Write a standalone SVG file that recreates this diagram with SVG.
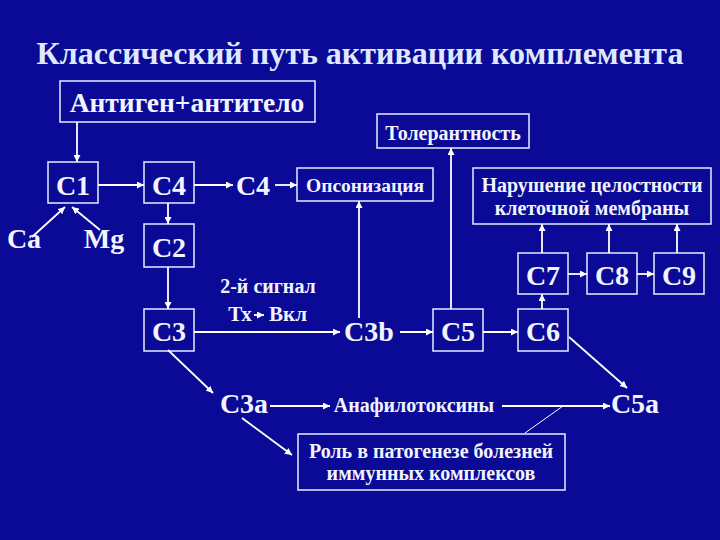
<svg xmlns="http://www.w3.org/2000/svg" width="720" height="540" viewBox="0 0 720 540">
<defs>
<marker id="ah" viewBox="0 0 10 10" refX="10" refY="5" markerWidth="7" markerHeight="7" markerUnits="userSpaceOnUse" orient="auto">
<path d="M0,0 L10,5 L0,10 z" fill="#ffffff"/>
</marker>
</defs>
<style>
.bx{fill:none;stroke:#e8ecff;stroke-width:1.5}
.t{font-family:'Liberation Serif','DejaVu Serif',serif;font-weight:bold;fill:#f2f4ff;text-anchor:middle}
.c{font-size:28px}
.m{font-size:20px}
.ln{stroke:#ffffff;stroke-width:1.8;fill:none}
.ar{stroke:#ffffff;stroke-width:1.8;fill:none;marker-end:url(#ah)}
</style>
<rect width="720" height="540" fill="#0a0a96"/>
<text class="t" x="360" y="64" style="font-size:32px;fill:#dfe8ff">Классический путь активации комплемента</text>

<g id="antigen"><rect class="bx" x="60" y="81" width="255" height="41"/><text class="t" x="187" y="112" style="font-size:27.5px">Антиген+антитело</text></g>
<g id="c1"><rect class="bx" x="48" y="162" width="50" height="41"/><text class="t c" x="73" y="195">C1</text></g>
<g id="c4box"><rect class="bx" x="144" y="162" width="50" height="41"/><text class="t c" x="169" y="195">C4</text></g>
<g id="c4"><text class="t c" x="253" y="195">C4</text></g>
<g id="opson"><rect class="bx" x="297" y="168" width="136" height="33"/><text class="t" x="365" y="192" style="font-size:19.5px">Опсонизация</text></g>
<g id="tol"><rect class="bx" x="377" y="114" width="152" height="34"/><text class="t" x="453" y="140" style="font-size:20px">Толерантность</text></g>
<g id="narush"><rect class="bx" x="473" y="168" width="238" height="56"/><text class="t m" x="592" y="192">Нарушение целостности</text><text class="t m" x="592" y="215">клеточной мембраны</text></g>
<g id="ca"><text class="t c" x="24" y="248">Ca</text></g>
<g id="mg"><text class="t c" x="104" y="248">Mg</text></g>
<g id="c2"><rect class="bx" x="144" y="224" width="50" height="43"/><text class="t c" x="169" y="257">C2</text></g>
<g id="c3"><rect class="bx" x="144" y="309" width="50" height="42"/><text class="t c" x="169" y="341">C3</text></g>
<g id="signal"><text class="t" x="268" y="293" style="font-size:20px">2-й сигнал</text><text class="t" x="240" y="321" style="font-size:21px">Тх</text><text class="t" x="288" y="321" style="font-size:21px">Вкл</text></g>
<g id="c3b"><text class="t c" x="369" y="341">C3b</text></g>
<g id="c5"><rect class="bx" x="433" y="309" width="50" height="42"/><text class="t c" x="458" y="341">C5</text></g>
<g id="c6"><rect class="bx" x="518" y="309" width="50" height="42"/><text class="t c" x="543" y="341">C6</text></g>
<g id="c7"><rect class="bx" x="518" y="253" width="50" height="41"/><text class="t c" x="543" y="285">C7</text></g>
<g id="c8"><rect class="bx" x="587" y="253" width="50" height="41"/><text class="t c" x="612" y="285">C8</text></g>
<g id="c9"><rect class="bx" x="654" y="253" width="50" height="41"/><text class="t c" x="679" y="285">C9</text></g>
<g id="c3a"><text class="t c" x="244" y="413">C3a</text></g>
<g id="anaf"><text class="t m" x="414" y="412">Анафилотоксины</text></g>
<g id="c5a"><text class="t c" x="635" y="413">C5a</text></g>
<g id="rol"><rect class="bx" x="298" y="434" width="267" height="56"/><text class="t m" x="431" y="458">Роль в патогенезе болезней</text><text class="t m" x="431" y="480">иммунных комплексов</text></g>

<g id="connectors">
<path class="ar" d="M77,122 V162"/>
<path class="ar" d="M98,185 H144"/>
<path class="ar" d="M194,185 H233"/>
<path class="ar" d="M275,185 H297"/>
<path class="ar" d="M32,237 L65,207"/>
<path class="ar" d="M100,230 L72,207"/>
<path class="ar" d="M168,203 V224"/>
<path class="ar" d="M168,267 V309"/>
<path class="ar" d="M254,315 H264"/>
<path class="ar" d="M194,332 H340"/>
<path class="ar" d="M359,318 V201"/>
<path class="ar" d="M400,332 H433"/>
<path class="ar" d="M451,309 V148"/>
<path class="ar" d="M483,332 H518"/>
<path class="ar" d="M542,309 V294"/>
<path class="ar" d="M568,274 H587"/>
<path class="ar" d="M637,274 H654"/>
<path class="ar" d="M542,253 V224"/>
<path class="ar" d="M609,253 V224"/>
<path class="ar" d="M677,253 V224"/>
<path class="ar" d="M569,337 L627,388"/>
<path class="ar" d="M168,350 L213,393"/>
<path class="ar" d="M270,406 H330"/>
<path class="ar" d="M502,406 H610"/>
<path class="ln" style="stroke-width:1" d="M525,433 L563,406"/>
<path class="ar" d="M242,418 L292,455"/>
</g>
</svg>
